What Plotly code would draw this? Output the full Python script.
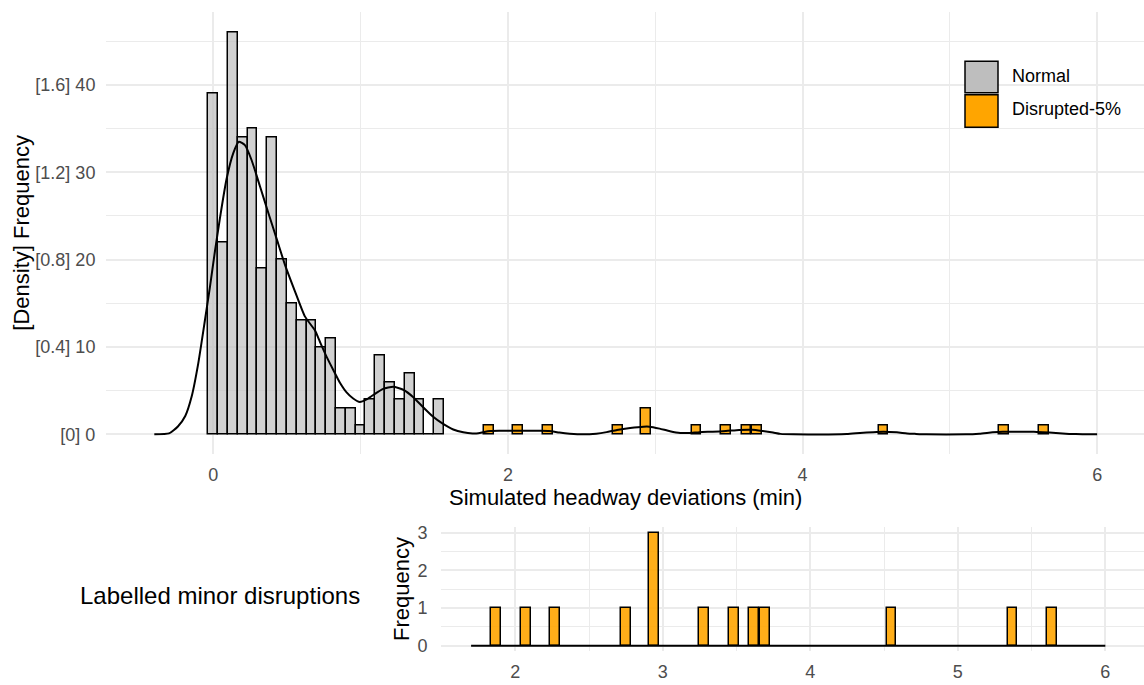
import plotly.graph_objects as go

# ---- data -----------------------------------------------------------------
BIN_WIDTH = 1 / 15  # histogram bin width (min)

# Normal operation: histogram counts per bin (bins centred on multiples of BIN_WIDTH)
normal_bin_centers = [round(k * BIN_WIDTH, 4) for k in range(24)]
normal_counts = [39, 22, 46, 34, 35, 19, 34, 20, 15, 13, 13, 10,
                 11, 3, 3, 1, 4, 9, 6, 4, 7, 4, 0, 4]

# Disrupted-5% runs: bin centres and counts
disrupted_bin_centers = [1.87, 2.07, 2.27, 2.75, 2.94, 3.28, 3.48, 3.62, 3.69, 4.55, 5.37, 5.64]
disrupted_counts = [1, 1, 1, 1, 3, 1, 1, 1, 1, 1, 1, 1]
disrupted_bin_span = [1.70, 6.0]  # extent of the disrupted histogram bins

# Kernel density estimate of all deviations (density units)
density_x = [-0.40, -0.30, -0.24, -0.19, -0.147, -0.102, -0.057, -0.023, 0.011, 0.045,
             0.090, 0.136, 0.174, 0.215, 0.260, 0.317, 0.373, 0.430, 0.487, 0.554,
             0.622, 0.690, 0.724, 0.769, 0.814, 0.860, 0.905, 0.950, 0.995, 1.041,
             1.086, 1.154, 1.222, 1.290, 1.358, 1.425, 1.493, 1.55, 1.629, 1.697,
             1.76, 1.80, 1.84, 1.88, 1.94, 2.01, 2.08, 2.15, 2.22, 2.28,
             2.35, 2.42, 2.51, 2.60, 2.67, 2.74, 2.83, 2.92, 2.96, 3.03,
             3.10, 3.17, 3.23, 3.30, 3.39, 3.48, 3.57, 3.66, 3.73, 3.80,
             3.85, 3.94, 4.30, 4.39, 4.48, 4.55, 4.64, 4.71, 4.77, 4.84,
             5.11, 5.20, 5.29, 5.36, 5.43, 5.50, 5.57, 5.63, 5.72, 5.81,
             5.90, 6.00]
density_y = [0.0, 0.004, 0.036, 0.084, 0.172, 0.324, 0.52, 0.672, 0.836, 0.988,
             1.168, 1.288, 1.34, 1.324, 1.256, 1.136, 1.016, 0.896, 0.776, 0.656,
             0.54, 0.476, 0.424, 0.356, 0.296, 0.236, 0.192, 0.164, 0.148, 0.16,
             0.18, 0.208, 0.218, 0.204, 0.17, 0.124, 0.08, 0.052, 0.022, 0.009,
             0.004, 0.005, 0.011, 0.015, 0.016, 0.016, 0.016, 0.016, 0.016, 0.015,
             0.008, 0.003, 0.0, 0.003, 0.010, 0.020, 0.029, 0.035, 0.035, 0.026,
             0.014, 0.006, 0.006, 0.010, 0.012, 0.015, 0.020, 0.021, 0.015, 0.008,
             0.002, 0.0, 0.001, 0.006, 0.010, 0.012, 0.009, 0.004, 0.002, 0.0,
             0.0, 0.003, 0.009, 0.012, 0.012, 0.012, 0.012, 0.010, 0.006, 0.002,
             0.0, 0.0]
COUNT_PER_DENSITY = 25  # frequency = density * n * bin width

# Axis ticks
top_x_ticks = [0, 2, 4, 6]
top_y_ticks = [0, 10, 20, 30, 40]
top_y_ticktext = ["[0] 0", "[0.4] 10", "[0.8] 20", "[1.2] 30", "[1.6] 40"]
bottom_x_ticks = [2, 3, 4, 5, 6]
bottom_y_ticks = [0, 1, 2, 3]

legend_labels = ["Normal", "Disrupted-5%"]

# ---- style ----------------------------------------------------------------
FONT = "Liberation Sans, Arial, sans-serif"
GRID = "#EBEBEB"
TICK_COLOR = "#4D4D4D"
GRAY_FILL = "rgba(190,190,190,0.7)"
ORANGE_FILL = "rgba(255,165,0,0.9)"
LEGEND_FILLS = ["#BEBEBE", "#FFA500"]

fig = go.Figure()

# Top panel: histograms + density
fig.add_trace(go.Bar(
    x=normal_bin_centers, y=normal_counts, width=BIN_WIDTH,
    marker=dict(color=GRAY_FILL, line=dict(color="black", width=1.5)),
    name=legend_labels[0], xaxis="x", yaxis="y", showlegend=False))
fig.add_trace(go.Bar(
    x=disrupted_bin_centers, y=disrupted_counts, width=BIN_WIDTH,
    marker=dict(color=ORANGE_FILL, line=dict(color="black", width=1.5)),
    name=legend_labels[1], xaxis="x", yaxis="y", showlegend=False))
fig.add_trace(go.Scatter(
    x=density_x, y=[d * COUNT_PER_DENSITY for d in density_y],
    mode="lines", line=dict(color="black", width=2, shape="spline", smoothing=0.5),
    xaxis="x", yaxis="y", showlegend=False, hoverinfo="skip"))

# Bottom panel: disrupted runs only
fig.add_trace(go.Scatter(
    x=disrupted_bin_span, y=[0, 0], mode="lines",
    line=dict(color="black", width=2), xaxis="x2", yaxis="y2",
    showlegend=False, hoverinfo="skip"))
fig.add_trace(go.Bar(
    x=disrupted_bin_centers, y=disrupted_counts, width=BIN_WIDTH,
    marker=dict(color=ORANGE_FILL, line=dict(color="black", width=1.5)),
    xaxis="x2", yaxis="y2", showlegend=False))

W, H = 1144, 685

def px_x(p):
    return p / W

def px_y(p):
    return 1 - p / H

axis_common = dict(showline=False, zeroline=False, gridcolor=GRID, gridwidth=1.5,
                   tickfont=dict(family=FONT, size=18, color=TICK_COLOR),
                   ticks="outside", tickcolor="rgba(0,0,0,0)")

fig.update_layout(
    width=W, height=H, margin=dict(l=0, r=0, t=0, b=0),
    paper_bgcolor="white", plot_bgcolor="white",
    barmode="overlay", bargap=0, showlegend=False,
    font=dict(family=FONT),
    xaxis=dict(domain=[px_x(106), 1], range=[-0.728, 6.318], anchor="y",
               tickvals=top_x_ticks, ticklen=4,
               minor=dict(tickvals=[1, 3, 5], showgrid=True, gridcolor=GRID, gridwidth=1.2),
               **axis_common),
    yaxis=dict(domain=[px_y(456.4), px_y(8.5)], range=[-2.3, 48.3], anchor="x",
               tickvals=top_y_ticks, ticktext=top_y_ticktext, ticklen=6,
               minor=dict(tickvals=[5, 15, 25, 35, 45], showgrid=True, gridcolor=GRID, gridwidth=1.2),
               **axis_common),
    xaxis2=dict(domain=[px_x(441), 1], range=[1.496, 6.262], anchor="y2",
                tickvals=bottom_x_ticks, ticklen=4,
                minor=dict(tickvals=[1.5, 2.5, 3.5, 4.5, 5.5], showgrid=True, gridcolor=GRID, gridwidth=1.2),
                **axis_common),
    yaxis2=dict(domain=[px_y(656), px_y(530)], range=[-0.15, 3.15], anchor="x2",
                tickvals=bottom_y_ticks, ticklen=9,
                minor=dict(tickvals=[0.5, 1.5, 2.5], showgrid=True, gridcolor=GRID, gridwidth=1.2),
                **axis_common),
)

title_font = dict(family=FONT, size=22, color="black")
paper = dict(xref="paper", yref="paper", showarrow=False)
annotations = [
    dict(text="Simulated headway deviations (min)", x=px_x(625), y=px_y(500),
         xanchor="center", yanchor="middle", font=title_font, **paper),
    dict(text="[Density] Frequency", x=px_x(21.7), y=px_y(232), textangle=-90,
         xanchor="center", yanchor="middle", font=title_font, **paper),
    dict(text="Frequency", x=px_x(401.7), y=px_y(593), textangle=-90,
         xanchor="center", yanchor="middle", font=title_font, **paper),
    dict(text="Labelled minor disruptions", x=px_x(219.7), y=px_y(599),
         xanchor="center", yanchor="middle",
         font=dict(family=FONT, size=24, color="black"), **paper),
]

# Legend keys and labels
legend_rows = [(58, 90, 74), (92, 125, 108)]
shapes = []
for (top, bottom, mid), label, fill in zip(legend_rows, legend_labels, LEGEND_FILLS):
    shapes.append(dict(type="rect", xref="paper", yref="paper",
                       x0=px_x(965), x1=px_x(998), y0=px_y(bottom), y1=px_y(top),
                       fillcolor=fill, line=dict(color="black", width=1.5), layer="above"))
    annotations.append(dict(text=label, x=px_x(1010), y=px_y(mid - 1.5), xanchor="left",
                            yanchor="middle", font=dict(family=FONT, size=18, color="black"),
                            **paper))

fig.update_layout(annotations=annotations, shapes=shapes)

fig.write_html("out.html")
